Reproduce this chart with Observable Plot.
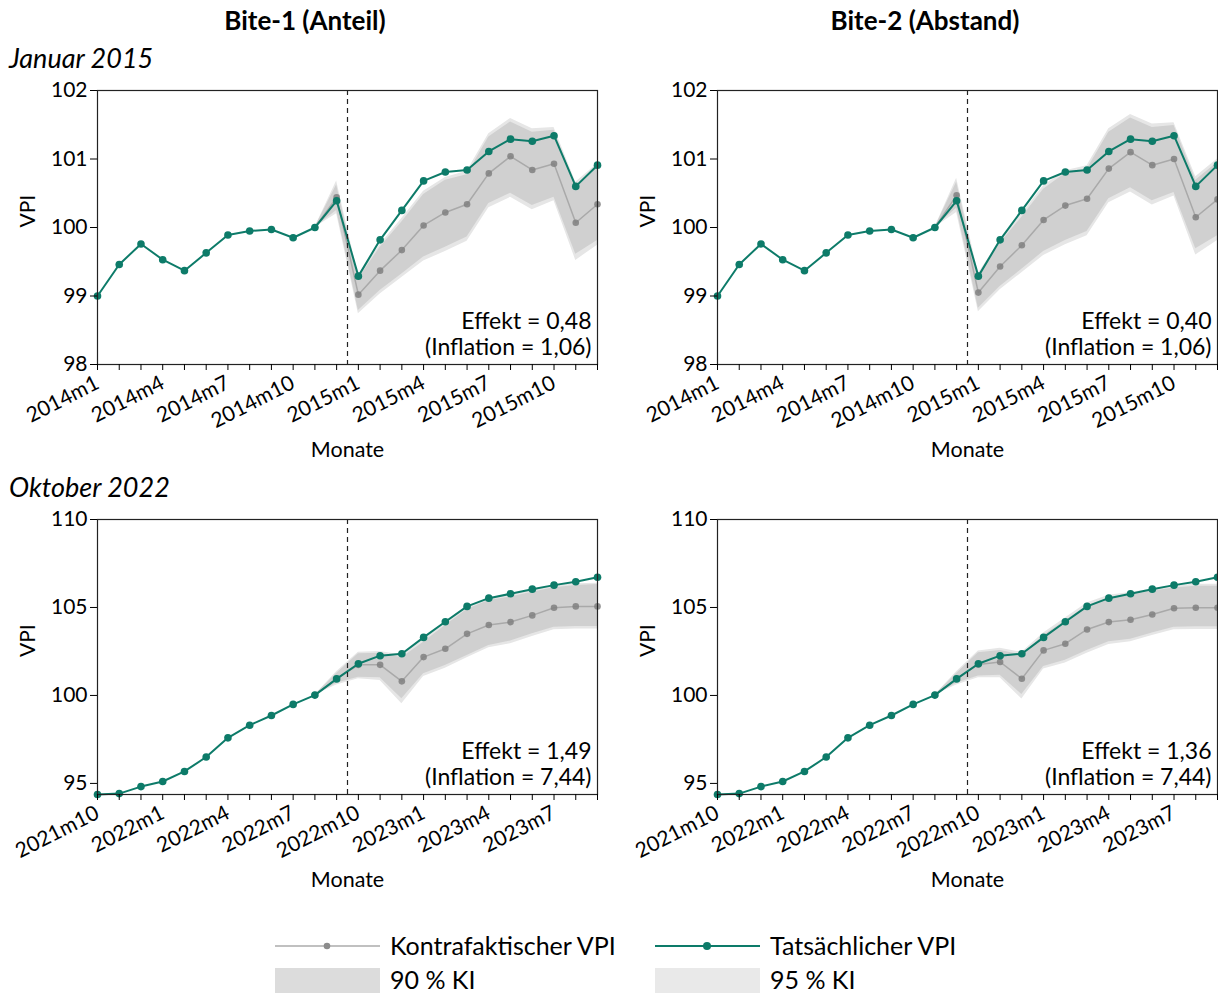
<!DOCTYPE html>
<html><head><meta charset="utf-8">
<script src="https://cdn.jsdelivr.net/npm/d3@7"></script>
<script src="https://cdn.jsdelivr.net/npm/@observablehq/plot@0.6"></script>
<style>
body{margin:0;background:#fff;font-family:Lato,"Open Sans",sans-serif;}
#wrap{position:relative;width:1218px;height:993px;overflow:hidden;background:#fff;}
.t{position:absolute;white-space:nowrap;color:#000;}
.panel{position:absolute;width:610px;}
.panel svg{max-width:none !important;}
</style></head>
<body><div id="wrap"></div>
<script>
// ---------- data ----------
const monthsA = ["2014m1","2014m2","2014m3","2014m4","2014m5","2014m6","2014m7","2014m8","2014m9","2014m10","2014m11","2014m12",
                 "2015m1","2015m2","2015m3","2015m4","2015m5","2015m6","2015m7","2015m8","2015m9","2015m10","2015m11","2015m12"];
const monthsB = ["2021m10","2021m11","2021m12","2022m1","2022m2","2022m3","2022m4","2022m5","2022m6","2022m7","2022m8","2022m9",
                 "2022m10","2022m11","2022m12","2023m1","2023m2","2023m3","2023m4","2023m5","2023m6","2023m7","2023m8","2023m9"];
const cutoff = 11.5;       // treatment between month 12 and 13 of each window
const cfStart = 10;        // counterfactual series starts at this month index

const actual2015 = [99.0, 99.46, 99.76, 99.53, 99.37, 99.63, 99.89, 99.95, 99.97, 99.85, 100.0, 100.39,
                    99.29, 99.82, 100.25, 100.68, 100.81, 100.84, 101.11, 101.29, 101.26, 101.34, 100.6, 100.91];
const actual2022 = [94.37, 94.42, 94.82, 95.11, 95.68, 96.5, 97.59, 98.31, 98.86, 99.49, 100.02, 100.94,
                    101.8, 102.26, 102.37, 103.3, 104.19, 105.06, 105.53, 105.78, 106.04, 106.27, 106.46, 106.72];

// counterfactual VPI (from month index 10)
const cfBite1_2015 = [100.0, 100.44, 99.02, 99.37, 99.67, 100.03, 100.22, 100.34, 100.79, 101.04, 100.84, 100.93, 100.07, 100.34];
const cfBite2_2015 = [100.0, 100.47, 99.05, 99.43, 99.74, 100.11, 100.32, 100.42, 100.86, 101.10, 100.91, 101.00, 100.15, 100.41];
const cfBite1_2022 = [100.02, 100.95, 101.74, 101.74, 100.8, 102.18, 102.65, 103.5, 104.0, 104.17, 104.55, 104.98, 105.06, 105.06];
const cfBite2_2022 = [100.02, 100.95, 101.76, 101.9, 100.95, 102.56, 102.94, 103.75, 104.17, 104.3, 104.6, 104.96, 104.98, 104.98];

// confidence bands
const lo90_b1_2015 = [100.0, 100.25, 98.79, 99.08, 99.32, 99.57, 99.71, 99.86, 100.35, 100.5, 100.32, 100.44, 99.61, 99.81];
const hi90_b1_2015 = [100.0, 100.62, 99.25, 99.71, 100.08, 100.48, 100.69, 100.77, 101.32, 101.54, 101.39, 101.42, 100.61, 100.88];
const lo95_b1_2015 = [100.0, 100.2, 98.74, 99.03, 99.27, 99.51, 99.65, 99.8, 100.29, 100.44, 100.26, 100.39, 99.52, 99.74];
const hi95_b1_2015 = [100.0, 100.68, 99.3, 99.75, 100.13, 100.53, 100.73, 100.82, 101.37, 101.59, 101.44, 101.46, 100.66, 100.93];

const lo90_b2_2015 = [100.0, 100.28, 98.82, 99.14, 99.39, 99.65, 99.81, 99.94, 100.42, 100.58, 100.39, 100.51, 99.69, 99.88];
const hi90_b2_2015 = [100.0, 100.66, 99.28, 99.77, 100.15, 100.56, 100.79, 100.85, 101.39, 101.6, 101.46, 101.49, 100.69, 100.95];
const lo95_b2_2015 = [100.0, 100.22, 98.77, 99.09, 99.34, 99.59, 99.75, 99.88, 100.36, 100.52, 100.33, 100.46, 99.6, 99.81];
const hi95_b2_2015 = [100.0, 100.72, 99.33, 99.81, 100.2, 100.61, 100.83, 100.9, 101.44, 101.65, 101.51, 101.53, 100.74, 101.0];

const lo90_b1_2022 = [100.02, 100.7, 101.04, 101.0, 99.81, 101.23, 101.7, 102.27, 102.84, 103.09, 103.5, 103.88, 103.92, 103.92];
const hi90_b1_2022 = [100.02, 101.25, 102.37, 102.4, 102.14, 103.03, 103.98, 104.89, 105.4, 105.59, 105.87, 106.12, 106.25, 106.31];
const lo95_b1_2022 = [100.02, 100.6, 100.95, 100.85, 99.53, 101.08, 101.55, 102.14, 102.71, 102.94, 103.35, 103.73, 103.77, 103.77];
const hi95_b1_2022 = [100.02, 101.35, 102.46, 102.5, 102.3, 103.16, 104.1, 105.02, 105.53, 105.72, 106.0, 106.25, 106.35, 106.38];

const lo90_b2_2022 = [100.02, 100.7, 101.1, 101.15, 100.05, 101.65, 102.0, 102.55, 103.05, 103.2, 103.55, 103.88, 103.9, 103.9];
const hi90_b2_2022 = [100.02, 101.25, 102.42, 102.55, 102.3, 103.4, 104.25, 105.1, 105.55, 105.7, 105.92, 106.1, 106.2, 106.2];
const lo95_b2_2022 = [100.02, 100.6, 101.0, 101.0, 99.8, 101.5, 101.85, 102.4, 102.9, 103.05, 103.4, 103.73, 103.75, 103.75];
const hi95_b2_2022 = [100.02, 101.35, 102.52, 102.68, 102.45, 103.55, 104.4, 105.25, 105.7, 105.85, 106.05, 106.24, 106.32, 106.32];

const yDomain2015 = [98, 102];
const yTicks2015 = [98, 99, 100, 101, 102];
const yDomain2022 = [94.37, 110];
const yTicks2022 = [95, 100, 105, 110];

const columnTitles = ["Bite-1 (Anteil)", "Bite-2 (Abstand)"];
const rowTitles = ["Januar 2015", "Oktober 2022"];
const effekte = ["0,48", "0,40", "1,49", "1,36"];
const inflation = ["1,06", "1,06", "7,44", "7,44"];
const legendLabels = ["Kontrafaktischer VPI", "Tatsächlicher VPI", "90 % KI", "95 % KI"];

// ---------- styles ----------
const green = "#0d7b69";
const FONT = "Lato, 'Open Sans', sans-serif";

function panel(o) {
  const act = o.actual.map((v, i) => ({i, v}));
  const cf = o.cf.map((v, k) => ({i: k + cfStart, v, lo90: o.lo90[k], hi90: o.hi90[k], lo95: o.lo95[k], hi95: o.hi95[k]}));
  const n = o.months.length;
  return Plot.plot({
    width: 610, height: 390,
    marginLeft: 97, marginRight: 13, marginTop: 10, marginBottom: o.mb,
    style: {fontFamily: FONT, fontSize: "20px", color: "#000", background: "transparent", overflow: "visible", maxWidth: "none"},
    x: {domain: [0, n - 1]},
    y: {domain: o.yDomain},
    marks: [
      Plot.areaY(cf, {x: "i", y1: "lo95", y2: "hi95", fill: "#e6e6e6"}),
      Plot.areaY(cf, {x: "i", y1: "lo90", y2: "hi90", fill: "#d0d0d0"}),
      Plot.line(cf, {x: "i", y: "v", stroke: "#a9a9a9", strokeWidth: 1.5}),
      Plot.dot(cf, {x: "i", y: "v", r: 3.3, fill: "#808080", fillOpacity: 0.85}),
      Plot.line(act, {x: "i", y: "v", stroke: green, strokeWidth: 2}),
      Plot.dot(act, {x: "i", y: "v", r: 3.8, fill: green}),
      Plot.ruleX([cutoff], {stroke: "#222", strokeDasharray: "5,4", strokeWidth: 1.2}),
      Plot.frame({stroke: "#222", strokeWidth: 1.2}),
      Plot.axisY({ticks: o.yTicks, tickSize: 7, tickPadding: 3, fontSize: 21, tickFormat: d => String(d), label: null}),
      Plot.axisX({ticks: d3.range(n), tickSize: 6, tickPadding: 11, tickRotate: -27, fontSize: 21,
                  tickFormat: i => i % 3 === 0 ? o.months[i] : "", label: null}),
      Plot.text(["VPI"], {text: d => d, frameAnchor: "left", dx: -69, rotate: -90, fontSize: 21}),
      Plot.text(["Monate"], {text: d => d, frameAnchor: "bottom", dy: 92, fontSize: 21.5}),
      Plot.text([`Effekt = ${o.effekt}\n(Inflation = ${o.inflation})`], {text: d => d, frameAnchor: "bottom-right",
                  dx: -6, dy: -10, textAnchor: "end", lineAnchor: "bottom", fontSize: 23, lineHeight: 1.13})
    ]
  });
}

const wrap = document.getElementById("wrap");
function addText(txt, css) {
  const d = document.createElement("div");
  d.className = "t"; d.textContent = txt;
  Object.assign(d.style, css);
  wrap.appendChild(d);
}
function addPanel(el, left, top) {
  const d = document.createElement("div");
  d.className = "panel"; d.style.left = left + "px"; d.style.top = top + "px";
  d.appendChild(el); wrap.appendChild(d);
}

addText(columnTitles[0], {left: "105px", width: "400px", textAlign: "center", top: "4px", fontSize: "26px", fontWeight: "bold"});
addText(columnTitles[1], {left: "725px", width: "400px", textAlign: "center", top: "4px", fontSize: "26px", fontWeight: "bold"});
addText(rowTitles[0], {left: "9px", top: "41px", fontSize: "27px", fontStyle: "italic"});
addText(rowTitles[1], {left: "9px", top: "470px", fontSize: "27px", fontStyle: "italic"});

addPanel(panel({months: monthsA, actual: actual2015, cf: cfBite1_2015, lo90: lo90_b1_2015, hi90: hi90_b1_2015, lo95: lo95_b1_2015, hi95: hi95_b1_2015,
  yDomain: yDomain2015, yTicks: yTicks2015, effekt: effekte[0], inflation: inflation[0], mb: 106}), 0, 80);
addPanel(panel({months: monthsA, actual: actual2015, cf: cfBite2_2015, lo90: lo90_b2_2015, hi90: hi90_b2_2015, lo95: lo95_b2_2015, hi95: hi95_b2_2015,
  yDomain: yDomain2015, yTicks: yTicks2015, effekt: effekte[1], inflation: inflation[1], mb: 106}), 620, 80);
addPanel(panel({months: monthsB, actual: actual2022, cf: cfBite1_2022, lo90: lo90_b1_2022, hi90: hi90_b1_2022, lo95: lo95_b1_2022, hi95: hi95_b1_2022,
  yDomain: yDomain2022, yTicks: yTicks2022, effekt: effekte[2], inflation: inflation[2], mb: 105}), 0, 509);
addPanel(panel({months: monthsB, actual: actual2022, cf: cfBite2_2022, lo90: lo90_b2_2022, hi90: hi90_b2_2022, lo95: lo95_b2_2022, hi95: hi95_b2_2022,
  yDomain: yDomain2022, yTicks: yTicks2022, effekt: effekte[3], inflation: inflation[3], mb: 105}), 620, 509);

// ---------- legend ----------
const svg = d3.select(wrap).append("svg")
  .attr("width", 1218).attr("height", 80)
  .style("position", "absolute").style("left", "0px").style("top", "920px")
  .style("font-family", FONT);
const L = [
  {x: 275, y: 26, type: "line", stroke: "#c0c0c0", dot: "#8c8c8c", r: 3.3, label: legendLabels[0]},
  {x: 655, y: 26, type: "line", stroke: green, dot: green, r: 4, label: legendLabels[1]},
  {x: 275, y: 60, type: "box", fill: "#dcdcdc", label: legendLabels[2]},
  {x: 655, y: 60, type: "box", fill: "#e9e9e9", label: legendLabels[3]}
];
for (const it of L) {
  if (it.type === "line") {
    svg.append("line").attr("x1", it.x).attr("x2", it.x + 105).attr("y1", it.y).attr("y2", it.y)
      .attr("stroke", it.stroke).attr("stroke-width", 2);
    svg.append("circle").attr("cx", it.x + 52).attr("cy", it.y).attr("r", it.r).attr("fill", it.dot);
  } else {
    svg.append("rect").attr("x", it.x).attr("y", it.y - 12).attr("width", 105).attr("height", 30).attr("fill", it.fill);
  }
  svg.append("text").attr("x", it.x + 115).attr("y", it.y).attr("dy", "0.35em")
    .attr("font-size", 25).attr("fill", "#000").text(it.label);
}
</script>
</body></html>
